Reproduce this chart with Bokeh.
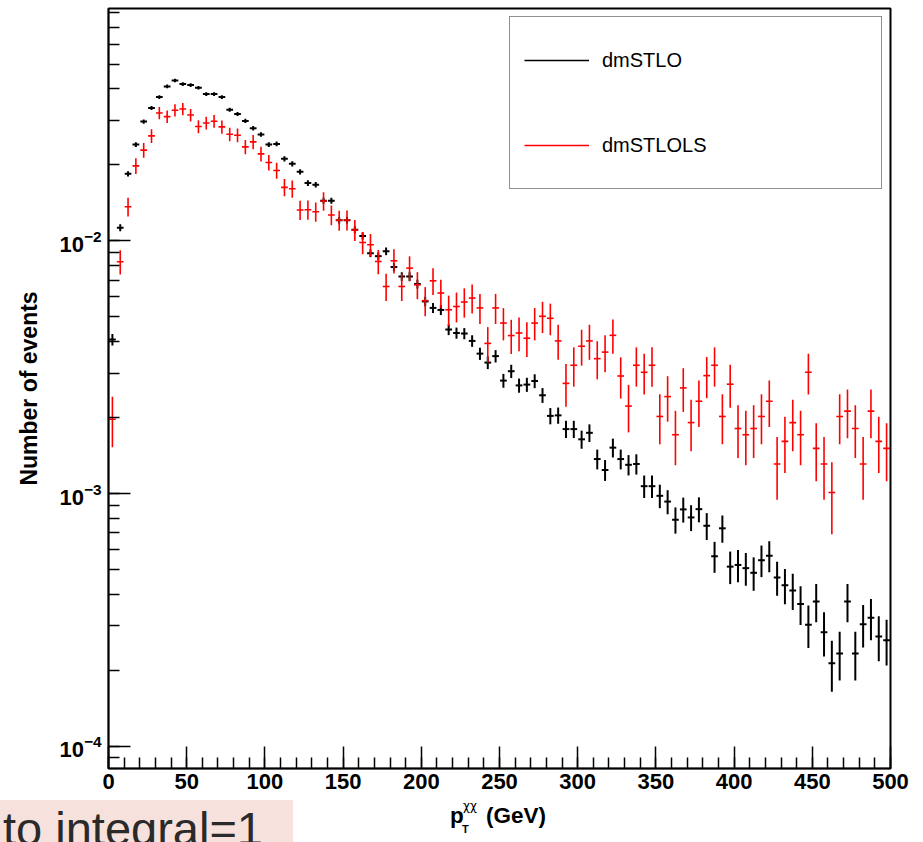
import math
from bokeh.plotting import figure
from bokeh.layouts import column
from bokeh.models import (Range1d, LogTicker, SingleIntervalTicker, Legend, LegendItem,
                          ColumnDataSource, Div)
from bokeh.embed import file_html
from bokeh.resources import INLINE

# ---------------- data ----------------
bin_edges = list(range(0, 505, 5))          # 100 bins of 5 GeV, 0..500
bin_centers = [(bin_edges[i] + bin_edges[i + 1]) / 2 for i in range(100)]

dmSTLO = [
    0.00407, 0.01128, 0.01843, 0.02406, 0.02966, 0.03356, 0.03709, 0.04087, 0.04316, 0.04174,
    0.04136, 0.04038, 0.03812, 0.03812, 0.03709, 0.03307, 0.03180, 0.02983, 0.02791, 0.02636,
    0.02406, 0.02420, 0.02112, 0.02018, 0.01877, 0.01693, 0.01668, 0.01442, 0.01442, 0.01207,
    0.01207, 0.01108, 0.01045, 0.00894, 0.00870, 0.00910, 0.00788, 0.00723, 0.00723, 0.00675,
    0.00576, 0.00543, 0.00533, 0.00446, 0.00432, 0.00430, 0.00402, 0.00358, 0.00330, 0.00350,
    0.00280, 0.00305, 0.00268, 0.00270, 0.00279, 0.00245, 0.00203, 0.00204, 0.00180, 0.00180,
    0.00164, 0.00174, 0.00137, 0.00124, 0.00152, 0.00137, 0.00130, 0.00131, 0.00107, 0.00107,
    0.000980, 0.000930, 0.000788, 0.000866, 0.000805, 0.000868, 0.000746, 0.000565, 0.000729, 0.000514,
    0.000522, 0.000507, 0.000486, 0.000545, 0.000568, 0.000466, 0.000434, 0.000414, 0.000366, 0.000303,
    0.000374, 0.000283, 0.000213, 0.000233, 0.000374, 0.000233, 0.000304, 0.000323, 0.000272, 0.000263,
]

dmSTLOLS = [
    0.00197, 0.00827, 0.01365, 0.01981, 0.02286, 0.02603, 0.03208, 0.03103, 0.03287, 0.03326,
    0.03149, 0.02835, 0.02929, 0.02975, 0.02825, 0.02643, 0.02619, 0.02355, 0.02465, 0.02210,
    0.02044, 0.01900, 0.01629, 0.01608, 0.01326, 0.01328, 0.01305, 0.01438, 0.01266, 0.01207,
    0.01210, 0.01105, 0.00985, 0.00966, 0.00829, 0.00660, 0.00834, 0.00660, 0.00780, 0.00670,
    0.00580, 0.00695, 0.00622, 0.00534, 0.00550, 0.00573, 0.00594, 0.00543, 0.00393, 0.00543,
    0.00473, 0.00422, 0.00432, 0.00412, 0.00473, 0.00503, 0.00494, 0.00402, 0.00273, 0.00322,
    0.00383, 0.00402, 0.00342, 0.00363, 0.00423, 0.00292, 0.00222, 0.00322, 0.00302, 0.00322,
    0.00202, 0.00242, 0.00171, 0.00262, 0.00191, 0.00232, 0.00293, 0.00322, 0.00202, 0.00271,
    0.00181, 0.00171, 0.00181, 0.00202, 0.00232, 0.00131, 0.00161, 0.00191, 0.00171, 0.00302,
    0.00151, 0.00131, 0.00101, 0.00202, 0.00212, 0.00181, 0.00131, 0.00212, 0.00161, 0.00151,
]

# effective number of entries (statistical errors of the unit-normalised histograms)
n_entries_dmSTLO = 90000
n_entries_dmSTLOLS = 9900

x_ticks_interval = 50
legend_labels = ["dmSTLO", "dmSTLOLS"]
x_title_main, x_title_sub, x_title_sup, x_title_unit = "p", "T", "χχ", "(GeV)"
slide_text = "to integral=1"

# ---------------- geometry ----------------
W = 923
H_MAIN, H_STRIP = 800, 42
FL, FR, FT, FB = 108, 33, 8, 32          # frame 782 x 760  (x 108..890, y 8..768)
X0, X1 = 0.0, 500.0
Y0, Y1 = 8.17e-5, 0.0831

FONT = "Liberation Sans"

p = figure(width=W, height=H_MAIN, output_backend="svg", toolbar_location=None,
           x_range=Range1d(X0, X1), y_range=Range1d(Y0, Y1), y_axis_type="log",
           min_border_left=FL, min_border_right=FR, min_border_top=FT, min_border_bottom=FB)
p.xgrid.visible = False
p.ygrid.visible = False
p.background_fill_color = "white"
p.border_fill_color = "white"
p.outline_line_color = "black"
p.outline_line_width = 2

for ax in (p.xaxis[0], p.yaxis[0]):
    ax.axis_line_color = "black"
    ax.axis_line_width = 1.5
    ax.major_tick_line_color = "black"
    ax.minor_tick_line_color = "black"
    ax.major_tick_line_width = 1.5
    ax.minor_tick_line_width = 1.5
    ax.major_tick_in = 22
    ax.major_tick_out = 0
    ax.minor_tick_in = 11
    ax.minor_tick_out = 0
    ax.major_label_text_font = FONT
    ax.major_label_text_font_style = "bold"
    ax.major_label_text_font_size = "22px"
    ax.major_label_text_color = "black"

p.xaxis[0].ticker = SingleIntervalTicker(interval=x_ticks_interval, num_minor_ticks=5)
p.xaxis[0].major_label_standoff = 5
p.yaxis[0].ticker = LogTicker(num_minor_ticks=10)
p.yaxis[0].major_label_standoff = 7
p.yaxis[0].axis_label = "Number of events"
p.yaxis[0].axis_label_text_font = FONT
p.yaxis[0].axis_label_text_font_style = "bold"
p.yaxis[0].axis_label_text_font_size = "23px"
p.yaxis[0].axis_label_text_color = "black"
p.yaxis[0].axis_label_standoff = 14


def make_source(vals, n_entries, half=2.15):
    err = [math.sqrt(v / n_entries) for v in vals]
    return ColumnDataSource(dict(
        x=bin_centers, y=vals,
        lo=[v - e for v, e in zip(vals, err)],
        hi=[v + e for v, e in zip(vals, err)],
        left=[c - half for c in bin_centers],
        right=[c + half for c in bin_centers],
    ))


for vals, n, col, lw in ((dmSTLO, n_entries_dmSTLO, "black", 2.0),
                         (dmSTLOLS, n_entries_dmSTLOLS, "#ff0000", 1.6)):
    src = make_source(vals, n)
    p.segment(x0="x", y0="lo", x1="x", y1="hi", source=src, line_color=col, line_width=lw)
    p.segment(x0="left", y0="y", x1="right", y1="y", source=src, line_color=col, line_width=lw)

# legend (proxy lines placed outside the visible x range)
r_black = p.line([-60, -50], [1e-3, 1e-3], line_color="black", line_width=1.3)
r_red = p.line([-60, -50], [1e-3, 1e-3], line_color="#ff0000", line_width=1.3)
legend = Legend(items=[LegendItem(label=legend_labels[0], renderers=[r_black]),
                       LegendItem(label=legend_labels[1], renderers=[r_red])],
                location=(401, 579), margin=0, padding=14, spacing=27,
                glyph_width=65, glyph_height=58, label_standoff=13, label_width=265,
                label_height=58, label_text_font=FONT, label_text_font_size="20px",
                label_text_color="black", border_line_color="#222222", border_line_width=1.5,
                background_fill_color="white", background_fill_alpha=1.0)
p.add_layout(legend)


# ---------------- bottom strip (HTML): x-axis title and slide fragment ----------------
def span(text, left, baseline, size, weight="normal", family=FONT, color="black",
         lh=1.0, asc=0.905, desc=0.212):
    # top of the line box so that the text baseline lands on `baseline` (page px)
    base_in_box = (lh - (asc + desc)) / 2 * size + asc * size
    top = baseline - H_MAIN - base_in_box
    return (f'<span style="position:absolute;left:{left}px;top:{top:.1f}px;'
            f'font-family:\'{family}\';font-size:{size}px;font-weight:{weight};'
            f'color:{color};line-height:{lh};white-space:nowrap;">{text}</span>')


html = (
    f'<div style="position:relative;width:{W}px;height:{H_STRIP}px;overflow:hidden;'
    f'background:white;margin:0;padding:0;">'
    f'<div style="position:absolute;left:0;top:0;width:293px;height:{H_STRIP}px;'
    f'background:#f7e1dc;"></div>'
    + span(slide_text, 3, 845, 47, color="#2a2a2a")
    + span(x_title_main, 450, 824, 22.5, weight="bold", lh=0.8)
    + span(x_title_sub, 462, 833, 11, weight="bold", lh=0.8)
    + span(x_title_sup, 463, 811, 12, family="DejaVu Sans", lh=0.6, asc=0.928, desc=0.236)
    + span(x_title_unit, 486, 824, 22.5, weight="bold", lh=0.8)
    + '</div>'
)
strip = Div(text=html, width=W, height=H_STRIP, margin=(0, 0, 0, 0))

layout = column(p, strip, spacing=0)
open("out.html", "w").write(file_html(layout, INLINE))
